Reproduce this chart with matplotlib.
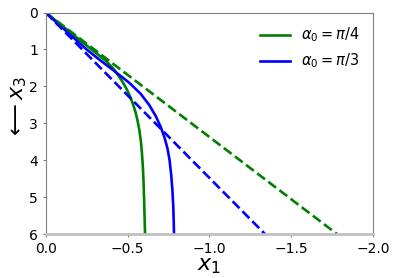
import matplotlib
matplotlib.use('Agg')
import matplotlib.pyplot as plt
import numpy as np

# depth x3 (positive downward) and horizontal x1 (negative)
y_green = [0, 0.5, 1.0, 1.3, 1.5, 1.7, 1.9, 2.1, 2.3, 2.5, 2.7, 2.9, 3.2, 3.5,
           3.8, 4.2, 4.6, 5.0, 5.5, 6.0]
x_green = [0, -0.14, -0.28, -0.365, -0.41, -0.443, -0.473, -0.498, -0.518, -0.535,
           -0.549, -0.560, -0.573, -0.582, -0.588, -0.594, -0.598, -0.601, -0.604, -0.607]

y_blue = [0, 0.5, 1.0, 1.3, 1.6, 1.9, 2.2, 2.5, 2.8, 3.1, 3.4, 3.7, 4.0, 4.4,
          4.8, 5.2, 5.6, 6.0]
x_blue = [0, -0.125, -0.25, -0.335, -0.424, -0.51, -0.58, -0.632, -0.672, -0.703,
          -0.727, -0.745, -0.757, -0.767, -0.774, -0.779, -0.782, -0.784]

# straight reference lines
y_line = [0, 6]
x_green_line = [0, -1.78]
x_blue_line = [0, -1.34]

fig = plt.figure(figsize=(4.15, 2.78), dpi=100)
ax = fig.add_axes([0.110, 0.158, 0.789, 0.797])

ax.plot(x_green, y_green, color='green', lw=1.9, label=r'$\alpha_0 = \pi/4$')
ax.plot(x_blue, y_blue, color='blue', lw=1.9, label=r'$\alpha_0 = \pi/3$')
ax.plot(x_green_line, y_line, color='green', lw=1.9, ls='--')
ax.plot(x_blue_line, y_line, color='blue', lw=1.9, ls='--')

ax.set_xlim(0, -2.0)
ax.set_ylim(6, 0)
ax.set_xticks([0.0, -0.5, -1.0, -1.5, -2.0])
ax.set_yticks([0, 1, 2, 3, 4, 5, 6])
ax.tick_params(labelsize=10, length=2, color='gray')

for s in ['top', 'right', 'left']:
    ax.spines[s].set_color('gray')
ax.spines['bottom'].set_color('#c0c0c0')
ax.spines['bottom'].set_linewidth(2)

ax.set_xlabel(r'$x_1$', fontsize=16, labelpad=0)
ax.set_ylabel(r'$\longleftarrow x_3$', fontsize=16, labelpad=0)
ax.yaxis.set_label_coords(-0.05, 0.57)

ax.legend(loc='upper right', frameon=False, fontsize=10.5)

plt.savefig('out.png', dpi=100)
